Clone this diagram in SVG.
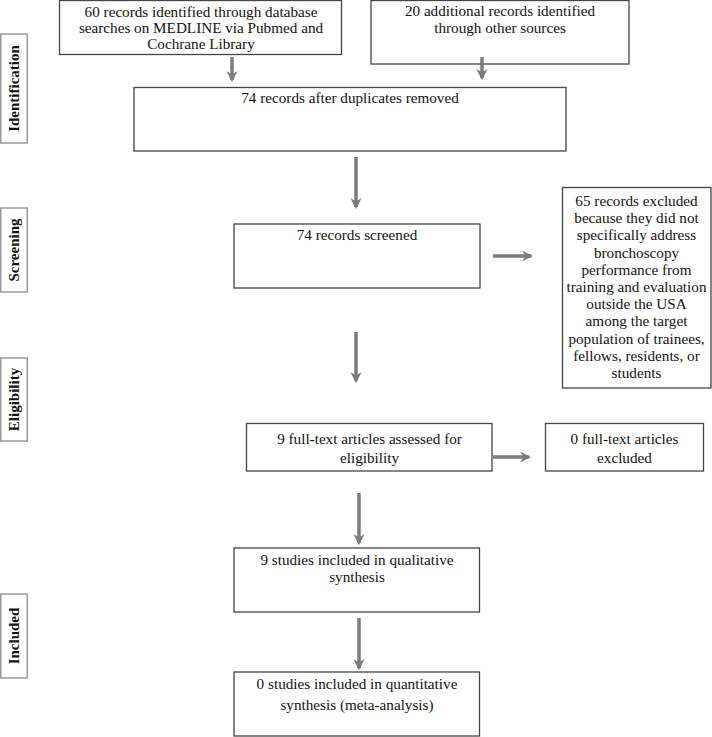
<svg xmlns="http://www.w3.org/2000/svg" width="712" height="737" viewBox="0 0 712 737">
<style>
.box{fill:#fff;stroke:#444;stroke-width:1.3}
.lab{fill:#fff;stroke:#999;stroke-width:1.5}
.t{font-family:"Liberation Serif","Times New Roman",serif;font-size:15.2px;fill:#111;text-anchor:middle}
.lt{font-family:"Liberation Serif","Times New Roman",serif;font-size:15px;font-weight:bold;fill:#111;text-anchor:middle}
.c{stroke:#7b7b7b;stroke-width:3.5;fill:none;marker-end:url(#ah)}
</style>
<defs>
<marker id="ah" viewBox="0 0 10 10" refX="8" refY="5" markerWidth="3.2" markerHeight="3.2" orient="auto" markerUnits="strokeWidth">
<path d="M0,0 L10,5 L0,10 L3,5 Z" fill="#7b7b7b"/>
</marker>
</defs>
<rect width="712" height="737" fill="#fff"/>

<g id="label-identification"><rect class="lab" x="0.75" y="34" width="26.5" height="109"/><text class="lt" transform="translate(19,88.5) rotate(-90)">Identification</text></g>
<g id="label-screening"><rect class="lab" x="0.75" y="208" width="26.5" height="84"/><text class="lt" transform="translate(19,250) rotate(-90)">Screening</text></g>
<g id="label-eligibility"><rect class="lab" x="0.75" y="358" width="26.5" height="83"/><text class="lt" transform="translate(19,399.5) rotate(-90)">Eligibility</text></g>
<g id="label-included"><rect class="lab" x="0.75" y="594" width="26.5" height="84"/><text class="lt" transform="translate(19,636) rotate(-90)">Included</text></g>

<g id="n-database"><rect class="box" x="59.5" y="0.5" width="282" height="54"/>
<text class="t" x="201" y="17">60 records identified through database</text>
<text class="t" x="201" y="33">searches on MEDLINE via Pubmed and</text>
<text class="t" x="201" y="49">Cochrane Library</text></g>

<g id="n-other"><rect class="box" x="371" y="0.5" width="258" height="63.5"/>
<text class="t" x="500" y="16">20 additional records identified</text>
<text class="t" x="500" y="33">through other sources</text></g>

<g id="n-dedup"><rect class="box" x="134" y="87.5" width="432" height="63.5"/>
<text class="t" x="350" y="103">74 records after duplicates removed</text></g>

<g id="n-screened"><rect class="box" x="234" y="224" width="246" height="64"/>
<text class="t" x="357" y="240">74 records screened</text></g>

<g id="n-excluded"><rect class="box" x="562.5" y="187.5" width="148.5" height="200.5"/>
<text class="t" x="636.5" y="206">65 records excluded</text>
<text class="t" x="636.5" y="223.2">because they did not</text>
<text class="t" x="636.5" y="240.4">specifically address</text>
<text class="t" x="636.5" y="257.6">bronchoscopy</text>
<text class="t" x="636.5" y="274.8">performance from</text>
<text class="t" x="636.5" y="292">training and evaluation</text>
<text class="t" x="636.5" y="309.2">outside the USA</text>
<text class="t" x="636.5" y="326.4">among the target</text>
<text class="t" x="636.5" y="343.6">population of trainees,</text>
<text class="t" x="636.5" y="360.8">fellows, residents, or</text>
<text class="t" x="636.5" y="378">students</text></g>

<g id="n-fulltext"><rect class="box" x="246.5" y="423.5" width="245.5" height="47.5"/>
<text class="t" x="369.5" y="444">9 full-text articles assessed for</text>
<text class="t" x="369.5" y="463">eligibility</text></g>

<g id="n-ftexcl"><rect class="box" x="545.5" y="423.5" width="158" height="47.5"/>
<text class="t" x="624.5" y="444">0 full-text articles</text>
<text class="t" x="624.5" y="463">excluded</text></g>

<g id="n-qual"><rect class="box" x="234" y="548" width="245.5" height="64"/>
<text class="t" x="357" y="565">9 studies included in qualitative</text>
<text class="t" x="357" y="582">synthesis</text></g>

<g id="n-quant"><rect class="box" x="234" y="672" width="245.5" height="64"/>
<text class="t" x="357" y="689">0 studies included in quantitative</text>
<text class="t" x="357" y="710">synthesis (meta-analysis)</text></g>

<g id="connectors">
<line class="c" x1="232" y1="57" x2="232" y2="80"/>
<line class="c" x1="482" y1="57" x2="482" y2="78"/>
<line class="c" x1="356" y1="157" x2="356" y2="207"/>
<line class="c" x1="493" y1="256" x2="531" y2="256"/>
<line class="c" x1="356" y1="332" x2="356" y2="381"/>
<line class="c" x1="493" y1="457" x2="529" y2="457"/>
<line class="c" x1="359" y1="493" x2="359" y2="543"/>
<line class="c" x1="359" y1="618" x2="359" y2="668"/>
</g>
</svg>
